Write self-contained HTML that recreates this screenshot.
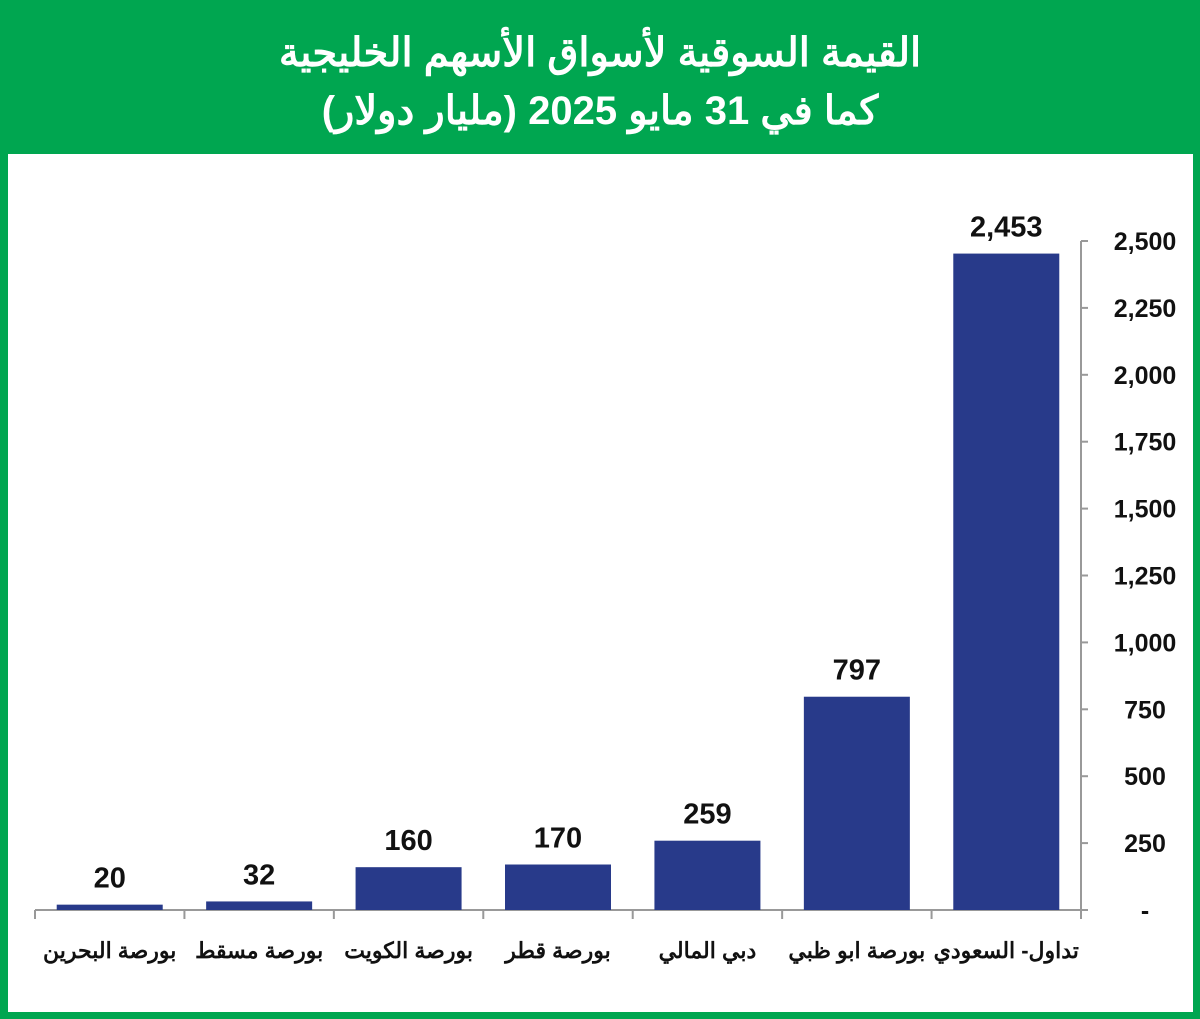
<!DOCTYPE html>
<html><head><meta charset="utf-8"><style>
body{margin:0;width:1200px;height:1019px;overflow:hidden;background:#00a650}
svg{display:block}
</style></head><body>
<svg width="1200" height="1019" viewBox="0 0 1200 1019">
<rect x="0" y="0" width="1200" height="1019" fill="#00a650"/>
<rect x="8" y="154" width="1185" height="858" fill="#ffffff"/>
<text x="600" y="66" text-anchor="middle" font-family="'Liberation Sans','Noto Sans CJK SC',sans-serif" font-weight="bold" font-size="40" fill="#fff" direction="rtl">القيمة السوقية لأسواق الأسهم الخليجية</text>
<text x="600" y="124" text-anchor="middle" font-family="'Liberation Sans','Noto Sans CJK SC',sans-serif" font-weight="bold" font-size="40" fill="#fff" direction="rtl">كما في 31 مايو 2025 (مليار دولار)</text>
<g id="axes"></g>
<g id="bars"></g>
</svg>
<script>
const categories=["بورصة البحرين","بورصة مسقط","بورصة الكويت","بورصة قطر","دبي المالي","بورصة ابو ظبي","تداول- السعودي"];
const values=[20,32,160,170,259,797,2453];
const valueLabels=["20","32","160","170","259","797","2,453"];
const tickValues=[0,250,500,750,1000,1250,1500,1750,2000,2250,2500];
const tickLabels=["-","250","500","750","1,000","1,250","1,500","1,750","2,000","2,250","2,500"];

const NS="http://www.w3.org/2000/svg";
const y0=910,yTop=241,yMax=2500,xL=35,xR=1081;
const y=v=>y0-(v/yMax)*(y0-yTop);
const band=(xR-xL)/categories.length;
const x=i=>xL+band*i;
const bw=106;
function mk(tag,attrs,parent){const e=document.createElementNS(NS,tag);for(const k in attrs)e.setAttribute(k,attrs[k]);parent.appendChild(e);return e;}
const ax=document.getElementById('axes'),bg=document.getElementById('bars');
const F="'Liberation Sans','Noto Sans CJK SC',sans-serif";
let l=mk('line',{x1:xR,y1:yTop,x2:xR,y2:y0,stroke:'#999','stroke-width':2},ax);


l=mk('line',{x1:xL,y1:y0,x2:xR,y2:y0,stroke:'#999','stroke-width':2},ax);


tickValues.forEach((v,i)=>{
 const t=mk('line',{x1:xR,y1:y(v),x2:xR+7,y2:y(v),stroke:'#999','stroke-width':2},ax);
 
 
 const tx=mk('text',{x:1145,y:y(v)+9,'text-anchor':'middle','font-family':F,'font-weight':'bold','font-size':25,fill:'#111'},ax);
 tx.textContent=tickLabels[i];
 
 
});
for(let i=0;i<=categories.length;i++){
 const t=mk('line',{x1:x(i),y1:y0,x2:x(i),y2:y0+9,stroke:'#999','stroke-width':2},ax);
 
 
}
categories.forEach((c,i)=>{
 const cx=x(i)+band/2;
 const r=mk('rect',{x:cx-bw/2,y:y(values[i]),width:bw,height:y0-y(values[i]),fill:'#283a8a'},bg);
 
 
 const vl=mk('text',{x:cx,y:y(values[i])-17,'text-anchor':'middle','font-family':F,'font-weight':'bold','font-size':29,fill:'#111'},bg);
 vl.textContent=valueLabels[i];
 
 
 const cl=mk('text',{x:cx,y:958,'text-anchor':'middle','font-family':F,'font-weight':'bold','font-size':22,fill:'#111',direction:'rtl'},bg);
 cl.textContent=c;
 
 
});
</script>
</body></html>
